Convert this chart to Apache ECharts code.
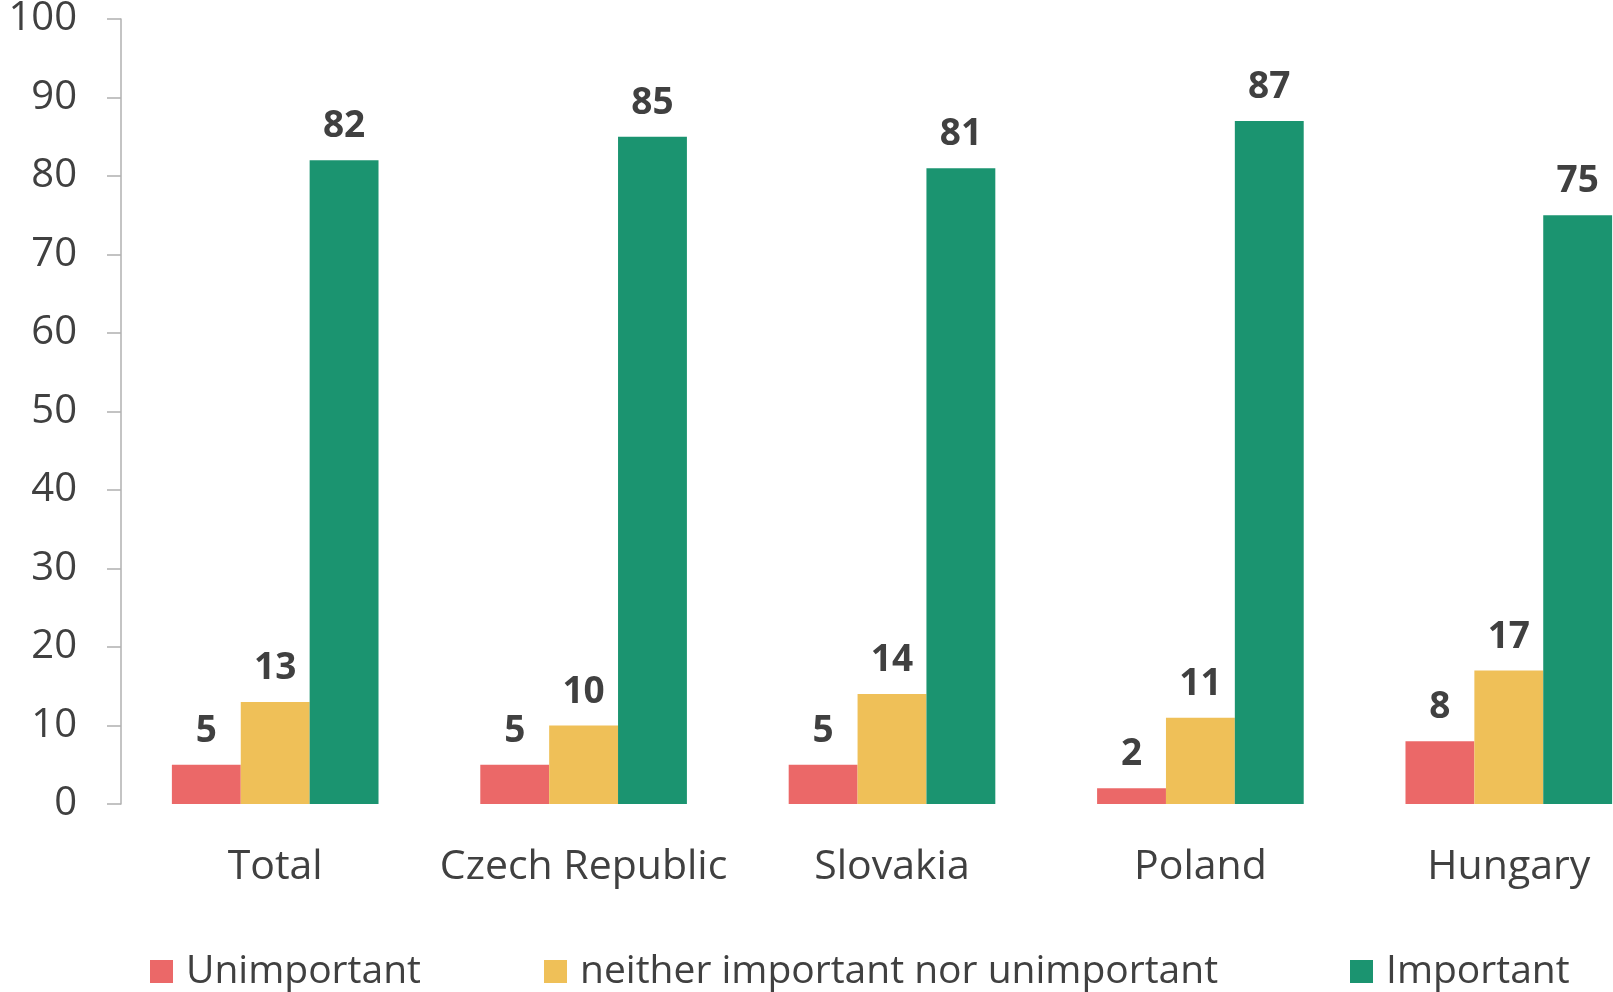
<!DOCTYPE html>
<html>
<head>
<meta charset="utf-8">
<script src="https://cdn.jsdelivr.net/npm/echarts@6/dist/echarts.min.js"></script>
<style>html,body{margin:0;padding:0;background:#fff}#main{width:1613px;height:992px}</style>
</head>
<body>
<div id="main"></div>
<script>
const categories = ['Total', 'Czech Republic', 'Slovakia', 'Poland', 'Hungary'];
const unimportant = [5, 5, 5, 2, 8];
const neither = [13, 10, 14, 11, 17];
const important = [82, 85, 81, 87, 75];
const seriesNames = ['Unimportant', 'neither important nor unimportant', 'Important'];
const colors = ['#EB6868', '#EFC058', '#1B9470'];

const font = 'Open Sans';
let chart = echarts.init(document.getElementById('main'));

function bar(name, data, color) {
  return {
    name: name,
    type: 'bar',
    data: data,
    barGap: 0,
    barCategoryGap: '33%',
    itemStyle: { color: color },
    label: {
      show: true,
      position: 'top',
      distance: 15,
      fontFamily: font,
      fontWeight: 'bold',
      fontSize: 37,
      color: '#404040'
    }
  };
}

// one legend per item so each sits where the reference has it
const legendLefts = [145, 539, 1345];
const legends = seriesNames.map(function (n, i) {
  return {
    data: [n],
    left: legendLefts[i],
    top: 947,
    itemWidth: 23,
    itemHeight: 23,
    icon: 'rect',
    textStyle: { fontFamily: font, fontSize: 39, color: '#404040', padding: [0, 0, 0, 8] }
  };
});

let option = {
  animation: false,
  textStyle: { fontFamily: font },
  color: colors,
  grid: { left: 121, width: 1542, top: 19, height: 785, outerBoundsMode: 'none', containLabel: false },
  legend: legends,
  xAxis: {
    type: 'category',
    data: categories,
    axisLine: { show: false },
    axisTick: { show: false },
    axisLabel: { interval: 0, fontFamily: font, fontSize: 41, color: '#404040', margin: 43 }
  },
  yAxis: {
    type: 'value',
    min: 0,
    max: 100,
    interval: 10,
    splitLine: { show: false },
    axisLine: { show: true, lineStyle: { color: '#B0B0B0', width: 1.5 } },
    axisTick: { show: true, length: 14, lineStyle: { color: '#B0B0B0', width: 1.5 } },
    axisLabel: { fontFamily: font, fontSize: 40, color: '#404040', margin: 44 }
  },
  series: [
    bar(seriesNames[0], unimportant, colors[0]),
    bar(seriesNames[1], neither, colors[1]),
    bar(seriesNames[2], important, colors[2])
  ]
};
chart.setOption(option);
</script>
</body>
</html>
